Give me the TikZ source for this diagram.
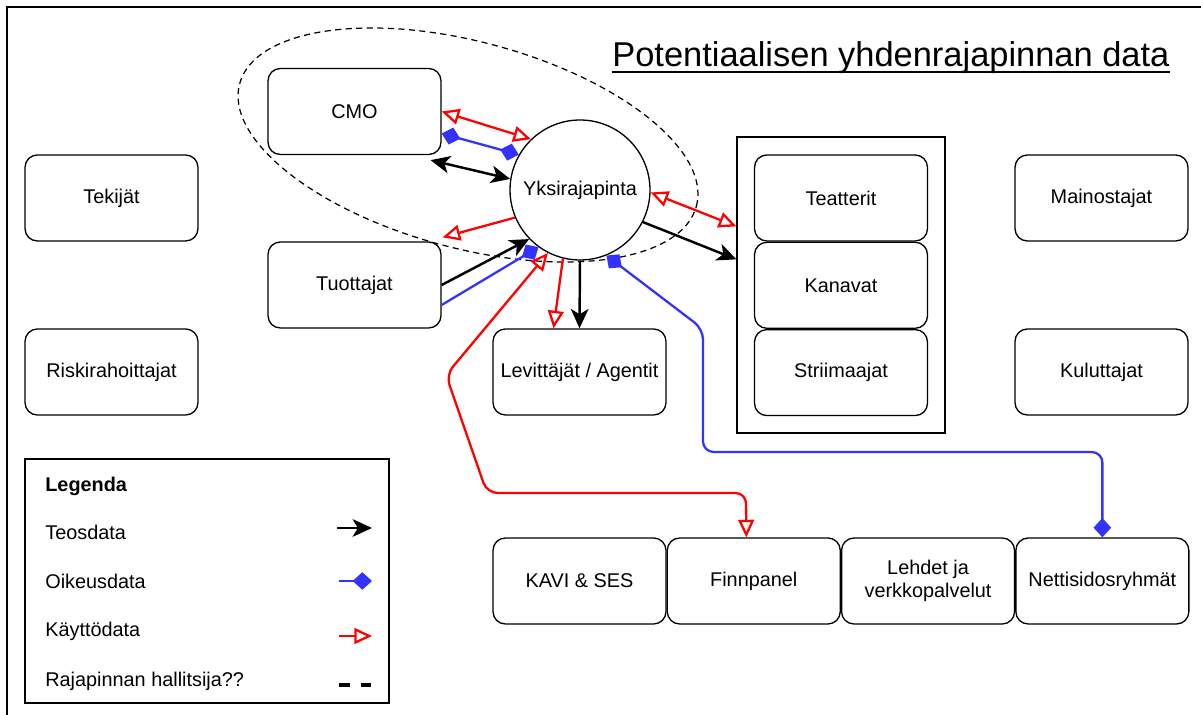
\documentclass[tikz,border=0pt]{standalone}
\usepackage{fontspec}
\setmainfont{Liberation Sans}
\usepackage{xcolor}
\usetikzlibrary{calc,arrows.meta,shapes.geometric,positioning}
\definecolor{oikeussin}{HTML}{3333FF}
\definecolor{kayttopun}{HTML}{FF0000}
\newcommand{\perusfontti}{\fontsize{11.3}{13.5}\selectfont}

\begin{document}
\begin{tikzpicture}[x=0.02cm, y=-0.02cm,
			laatikko/.style={draw, fill=white, rounded corners=7pt, line width=0.75pt, minimum width=3.46cm, minimum height=1.72cm, align=center, font=\perusfontti},
			teoskarki/.tip={Stealth[length=11pt,width=10pt,inset=3pt]},
			oikeuskarki/.tip={Diamond[length=11pt,width=10pt]},
			kayttokarki/.tip={Triangle[open,length=10pt,width=9pt]},
			teos/.style={line width=1.4pt, -{teoskarki}},
			teos2/.style={line width=1.4pt, {teoskarki}-{teoskarki}},
			oikeus/.style={oikeussin, line width=1.3pt, -{oikeuskarki}},
			oikeus2/.style={oikeussin, line width=1.3pt, {oikeuskarki}-{oikeuskarki}},
			kaytto/.style={kayttopun, line width=1.3pt, -{kayttokarki}},
			kaytto2/.style={kayttopun, line width=1.3pt, {kayttokarki}-{kayttokarki}},
			selite/.style={anchor=west, inner sep=0, font=\perusfontti}]
			\useasboundingbox (0,0) rectangle (1201,715);
			\draw[line width=0.85pt] (1201,7) -- (7,7) -- (7,715);
			\node[anchor=base west, inner sep=0, font=\fontsize{19.6}{23}\selectfont] (otsikko) at (612,66.7) {Potentiaalisen yhdenrajapinnan data};
			\draw[line width=1.1pt] ($(otsikko.base west)+(0,5)$) -- ($(otsikko.base east)+(0,5)$);
			\node[draw, ellipse, line width=0.7pt, dash pattern=on 3.5pt off 2.5pt, inner sep=0, minimum width=9.46cm, minimum height=4.13cm, rotate=-15] (hallitsija) at (468,145) {};
			\node[laatikko] (tekijat) at (111.5,198) {Tekijät};
			\node[laatikko] (riski) at (111.5,372) {Riskirahoittajat};
			\node[laatikko] (cmo) at (354.5,111.5) {CMO};
			\node[laatikko] (tuottajat) at (354.5,285) {Tuottajat};
			\node[draw, circle, fill=white, line width=0.75pt, minimum size=2.8cm, inner sep=0, font=\perusfontti] (yks) at (580,190) {Yksirajapinta};
			\node[laatikko] (levittajat) at (579.5,372) {Levittäjät / Agentit};
			\node[draw, line width=0.75pt, minimum width=4.16cm, minimum height=5.92cm] (ryhma) at (841,285) {};
			\node[laatikko] (teatterit) at (841,198) {Teatterit};
			\node[laatikko, below=0pt of teatterit] (kanavat) {Kanavat};
			\node[laatikko, below=0pt of kanavat] (striimaajat) {Striimaajat};
			\node[laatikko] (mainostajat) at (1101.5,198) {Mainostajat};
			\node[laatikko] (kuluttajat) at (1101.5,372) {Kuluttajat};
			\node[laatikko] (kavi) at (579.5,581) {KAVI \& SES};
			\node[laatikko, right=0pt of kavi] (finnpanel) {Finnpanel};
			\node[laatikko, right=0pt of finnpanel] (lehdet) {Lehdet ja\\verkkopalvelut};
			\node[laatikko, right=0pt of lehdet] (netti) {Nettisidosryhmät};
			\draw[kaytto2] (cmo.east) -- (yks.134);
			\draw[oikeus2] ($(cmo.east)+(0,22)$) -- (yks.150);
			\draw[teos2] ($(cmo.south east)+(-11,5)$) -- (yks.171);
			\draw[kaytto] (yks.203) -- ($(tuottajat.north east)+(1,-4)$);
			\draw[teos] (tuottajat.east) -- (yks.224);
			\draw[oikeus] ($(tuottajat.east)+(0,20)$) -- (yks.234);
			\draw[kaytto2, rounded corners=6pt] (yks.243) -- (446,375) -- (487,493) -- (746,493) -- ($(finnpanel.north)+(-7.5,0)$);
			\draw[kaytto] (yks.256) -- ($(levittajat.north)+(-26,0)$);
			\draw[teos] (yks.south) -- (levittajat.north);
			\draw[oikeus2, rounded corners=6pt] (yks.292) -- (703,329) -- (703,452) -- (netti.north |- 0,452) -- (netti.north);
			\draw[kaytto2] (yks.358) -- ($(ryhma.north west)+(0,90)$);
			\draw[teos] (yks.333) -- ($(ryhma.north west)+(0,123)$);
			\node[draw, line width=0.75pt, minimum width=7.28cm, minimum height=4.88cm] (legenda) at (207,581) {};
			\node[selite, font=\perusfontti\bfseries] (legotsikko) at (45,486) {Legenda};
			\node[selite] (lteos) at (45,532) {Teosdata};
			\node[selite] (loikeus) at (45,581) {Oikeusdata};
			\node[selite] (lkaytto) at (45,631) {Käyttödata};
			\node[selite] (lhallitsija) at (45,681) {Rajapinnan hallitsija??};
			\coordinate (teosa) at (337,528);
			\coordinate (teosb) at (372,528);
			\coordinate (oikeusa) at (339,581);
			\coordinate (oikeusb) at (372,581);
			\coordinate (kayttoa) at (339,636);
			\coordinate (kayttob) at (372,636);
			\coordinate (hallita) at (339,685);
			\coordinate (hallitb) at (371,685);
			\draw[teos] (teosa) -- (teosb);
			\draw[oikeus] (oikeusa) -- (oikeusb);
			\draw[kaytto] (kayttoa) -- (kayttob);
			\draw[line width=1.8pt, dash pattern=on 6.2pt off 6.2pt] (hallita) -- (hallitb);
			\end{tikzpicture}
\end{document}
